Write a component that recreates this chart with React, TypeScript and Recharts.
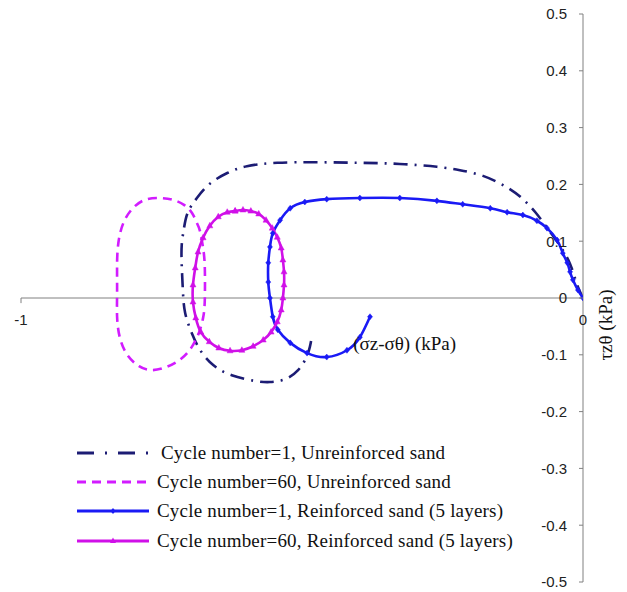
import { LineChart, Line, XAxis, YAxis, ReferenceLine, ReferenceDot, Legend } from 'recharts'

// stress path data: x = (σz-σθ) kPa, y = τzθ kPa
const unreinfC1X = [
  0, -0.011, -0.023, -0.041, -0.062, -0.084, -0.109, -0.139, -0.178, -0.219, -0.26, -0.326,
  -0.397, -0.473, -0.544, -0.598, -0.633, -0.664, -0.687, -0.703, -0.71, -0.714, -0.714,
  -0.712, -0.708, -0.696, -0.681, -0.658, -0.625, -0.584, -0.557, -0.53, -0.507, -0.493,
  -0.486, -0.482,
]
const unreinfC1Y = [
  0, 0.025, 0.06, 0.092, 0.121, 0.15, 0.176, 0.197, 0.215, 0.225, 0.231, 0.236, 0.238, 0.239,
  0.238, 0.232, 0.22, 0.201, 0.176, 0.151, 0.123, 0.093, 0.058, 0.014, -0.026, -0.062, -0.092,
  -0.118, -0.136, -0.146, -0.148, -0.143, -0.127, -0.106, -0.086, -0.065,
]

const unreinfC60X = [
  -0.687, -0.681, -0.676, -0.673, -0.673, -0.676, -0.683, -0.696, -0.715, -0.74, -0.767, -0.79,
  -0.811, -0.824, -0.829, -0.829, -0.829, -0.826, -0.817, -0.801, -0.779, -0.753, -0.73, -0.71,
  -0.696, -0.687,
]
const unreinfC60Y = [
  0.132, 0.116, 0.088, 0.055, -0.004, -0.035, -0.06, -0.086, -0.107, -0.121, -0.127, -0.12,
  -0.1, -0.07, -0.033, 0.014, 0.063, 0.102, 0.134, 0.158, 0.173, 0.176, 0.173, 0.164, 0.15,
  0.132,
]

const reinfC1X = [
  0, -0.009, -0.018, -0.023, -0.028, -0.036, -0.046, -0.064, -0.082, -0.107, -0.135, -0.165,
  -0.214, -0.26, -0.326, -0.397, -0.456, -0.495, -0.521, -0.539, -0.552, -0.557, -0.56, -0.56,
  -0.557, -0.552, -0.543, -0.521, -0.491, -0.456, -0.42, -0.397, -0.379,
]
const reinfC1Y = [
  0, 0.014, 0.032, 0.046, 0.062, 0.079, 0.102, 0.123, 0.136, 0.146, 0.151, 0.158, 0.165, 0.171,
  0.176, 0.176, 0.174, 0.169, 0.158, 0.137, 0.114, 0.09, 0.062, 0.028, 0, -0.033, -0.056,
  -0.079, -0.097, -0.104, -0.092, -0.069, -0.033,
]

const reinfC60X = [
  -0.619, -0.605, -0.591, -0.577, -0.564, -0.553, -0.544, -0.537, -0.534, -0.532, -0.532,
  -0.534, -0.537, -0.544, -0.555, -0.569, -0.587, -0.607, -0.628, -0.648, -0.665, -0.68,
  -0.689, -0.694, -0.694, -0.69, -0.685, -0.676, -0.664, -0.649, -0.633, -0.619,
]
const reinfC60Y = [
  0.153, 0.155, 0.153, 0.148, 0.137, 0.123, 0.107, 0.088, 0.067, 0.046, 0.023, 0, -0.021,
  -0.042, -0.06, -0.074, -0.085, -0.092, -0.093, -0.088, -0.077, -0.06, -0.035, -0.007, 0.023,
  0.053, 0.081, 0.106, 0.127, 0.143, 0.151, 0.153,
]

const Y_TICKS = [-0.5, -0.4, -0.3, -0.2, -0.1, 0, 0.1, 0.2, 0.3, 0.4, 0.5]
const X_TICKS = [-1, 0]

const LEGEND_LABELS = [
  'Cycle number=1, Unreinforced sand',
  'Cycle number=60, Unreinforced sand',
  'Cycle number=1, Reinforced sand (5 layers)',
  'Cycle number=60, Reinforced sand (5 layers)',
]

const NAVY = '#1c1c74'
const PINK_DASH = '#d21cff'
const BLUE = '#1a1af5'
const PINK = '#d010e8'
const AXIS = '#808080'
const SERIF = '"Liberation Serif", "Times New Roman", serif'
const SANS = '"Liberation Sans", Arial, sans-serif'

const zip = (xs: number[], ys: number[]) => xs.map((x, i) => ({ x, y: ys[i] }))

const series = [
  { key: 'u1', data: zip(unreinfC1X, unreinfC1Y), color: NAVY, dash: '14 7 2 7', marker: null },
  { key: 'u60', data: zip(unreinfC60X, unreinfC60Y), color: PINK_DASH, dash: '9 6', marker: null },
  { key: 'r1', data: zip(reinfC1X, reinfC1Y), color: BLUE, dash: undefined, marker: 'diamond' },
  { key: 'r60', data: zip(reinfC60X, reinfC60Y), color: PINK, dash: undefined, marker: 'triangle' },
]

function markerPath(kind: string, cx: number, cy: number) {
  if (kind === 'diamond') return `M${cx},${cy - 3} L${cx + 2.5},${cy} L${cx},${cy + 3} L${cx - 2.5},${cy} Z`
  return `M${cx},${cy - 3.5} L${cx + 3},${cy + 2} L${cx - 3},${cy + 2} Z`
}

function makeDot(kind: string, color: string) {
  return (props: any) => {
    const { cx, cy, index } = props
    return <path key={`${kind}-${index}`} d={markerPath(kind, cx, cy)} fill={color} stroke={color} strokeWidth={0.5} />
  }
}

function YTick({ x, y, payload }: any) {
  return (
    <g>
      <line x1={x - 4} x2={x} y1={y} y2={y} stroke={AXIS} />
      <text x={x - 16} y={y} dy="0.36em" textAnchor="end" fontSize={15} fontFamily={SANS} fill="#222">
        {String(payload.value)}
      </text>
    </g>
  )
}

function YTitle({ viewBox }: any) {
  const cx = viewBox.x + 22
  const cy = viewBox.y + viewBox.height / 2 + 27
  return (
    <text x={cx} y={cy} transform={`rotate(-90 ${cx} ${cy})`} textAnchor="middle" dy="0.35em" fontSize={19} fontFamily={SERIF} fill="#111">
      τzθ (kPa)
    </text>
  )
}

function LegendBox() {
  return (
    <div style={{ fontFamily: SERIF, fontSize: 19, color: '#111', letterSpacing: 0.2 }}>
      {series.map((s, i) => (
        <div key={s.key} style={{ display: 'flex', alignItems: 'center', height: 29.3, whiteSpace: 'nowrap' }}>
          <svg width={72} height={10}>
            <line x1={0} x2={72} y1={5} y2={5} stroke={s.color} strokeWidth={3} strokeDasharray={s.key === 'u1' ? '17 11 2 11' : s.dash} />
            {s.marker && <path d={markerPath(s.marker, 36, 5)} fill={s.color} />}
          </svg>
          <span style={{ marginLeft: i === 0 ? 12 : 8 }}>{LEGEND_LABELS[i]}</span>
        </div>
      ))}
    </div>
  )
}

export default function App() {
  return (
    <div style={{ position: 'absolute', left: 0, top: 0, width: 627, height: 592, background: '#fff' }}>
      <LineChart width={627} height={592} margin={{ top: 14, right: 0, bottom: 10, left: 21 }}>
        <XAxis type="number" dataKey="x" domain={[-1, 0]} ticks={X_TICKS} allowDataOverflow hide />
        <YAxis
          type="number"
          orientation="right"
          domain={[-0.5, 0.5]}
          ticks={Y_TICKS}
          interval={0}
          width={44}
          axisLine={{ stroke: AXIS }}
          tickLine={false}
          tickSize={0}
          tickMargin={0}
          tick={<YTick />}
          label={(props: any) => <YTitle {...props} />}
        />
        <ReferenceLine y={0} stroke={AXIS} strokeWidth={1} />
        <ReferenceLine segment={[{ x: -1, y: 0 }, { x: -1, y: -0.009 }]} stroke={AXIS} />
        {X_TICKS.map(v => (
          <ReferenceDot
            key={`xt${v}`}
            x={v}
            y={0}
            r={0}
            fill="none"
            stroke="none"
            label={{ value: String(v), position: 'bottom', offset: 16, fontSize: 15, fontFamily: SANS, fill: '#222' }}
          />
        ))}
        <ReferenceDot
          x={-0.409}
          y={-0.079}
          r={0}
          fill="none"
          stroke="none"
          label={{ value: '(σz-σθ) (kPa)', position: 'right', offset: 0, fontSize: 19, fontFamily: SERIF, fill: '#111' }}
        />
        {series.map(s => (
          <Line
            key={s.key}
            data={s.data}
            dataKey="y"
            type="natural"
            stroke={s.color}
            strokeWidth={2.6}
            strokeDasharray={s.dash}
            dot={s.marker ? makeDot(s.marker, s.color) : false}
            activeDot={false}
            isAnimationActive={false}
          />
        ))}
        <Legend
          layout="vertical"
          align="center"
          verticalAlign="middle"
          content={() => <LegendBox />}
          wrapperStyle={{ left: 77, top: 438, width: 'auto', height: 'auto' }}
        />
      </LineChart>
    </div>
  )
}
